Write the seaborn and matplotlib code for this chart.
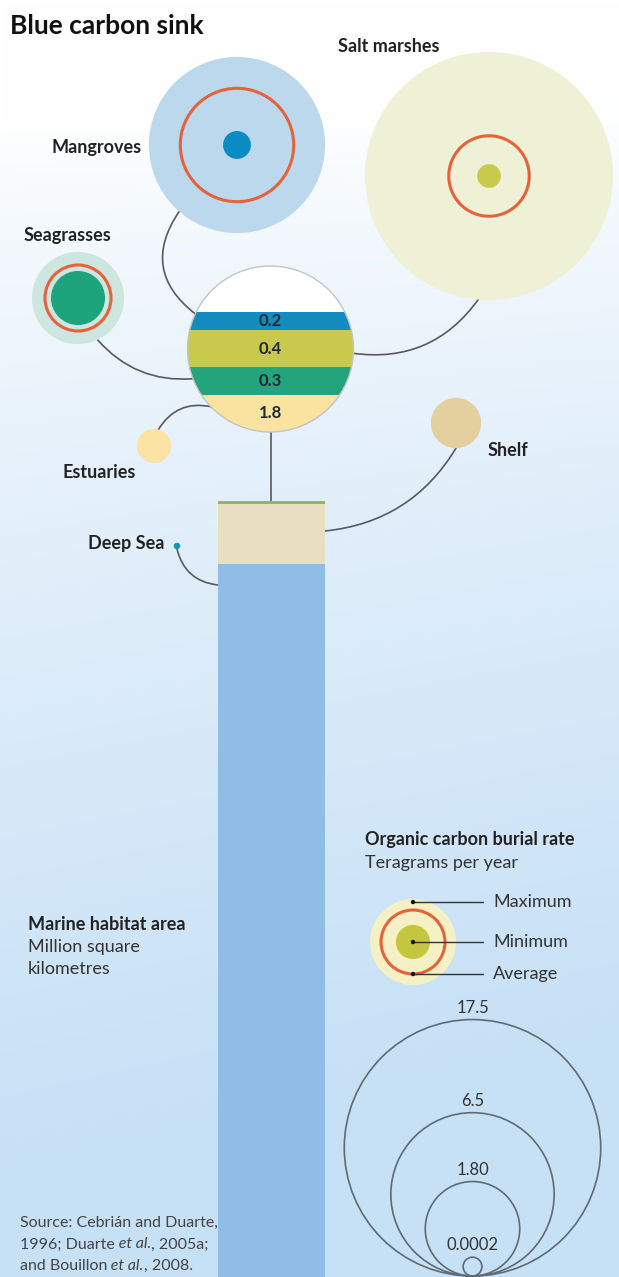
import numpy as np
import pandas as pd
import matplotlib.pyplot as plt
import seaborn as sns
from matplotlib.patches import Circle, Rectangle

sns.set_theme(style="white")
plt.rcParams['font.family'] = ['Lato', 'DejaVu Sans']

# ---- data ----
habitats = ["Mangroves", "Salt marshes", "Seagrasses", "Estuaries", "Shelf", "Deep Sea"]
area_mkm2 = [0.2, 0.4, 0.3, 1.8, 26.6, 330]          # marine habitat area, million km2
burial_min = [0.03, 0.01, 0.40, 0.08, 0.32, np.nan]  # Tg per year
burial_avg = [2.8, 1.2, 0.71, np.nan, np.nan, np.nan]
burial_max = [7.7, 16.3, 1.69, np.nan, np.nan, np.nan]
key_example = [0.08, 0.65, 1.42]                     # min, avg, max in the key
scale_vals = [17.5, 6.5, 1.80, 0.0002]
scale_labels = ["17.5", "6.5", "1.80", "0.0002"]

df = pd.DataFrame({"habitat": habitats, "area": area_mkm2,
                   "min": burial_min, "avg": burial_avg, "max": burial_max})

# ---- colours / layout ----
outer_col = {"Mangroves": "#bcd8ec", "Salt marshes": "#eff1d6", "Seagrasses": "#cde6df"}
inner_col = {"Mangroves": "#0b8cc3", "Salt marshes": "#c7ca4c", "Seagrasses": "#1ea47c",
             "Estuaries": "#fbe3a3", "Shelf": "#e4cf9f", "Deep Sea": "#1596b4"}
band_col = {"Mangroves": "#138bbf", "Salt marshes": "#c9c94e",
            "Seagrasses": "#23a47c", "Estuaries": "#fae2a0"}
ring = "#e5623a"
line_c = "#555a5e"
txt_c = "#222222"

W, H = 619, 1277
pos = {"Mangroves": (237, 145), "Salt marshes": (489, 176), "Seagrasses": (78, 298),
       "Estuaries": (154, 446), "Shelf": (456, 423), "Deep Sea": (177, 546)}
hub, hub_r = (270.5, 349), 83
band_top, band_h = 312, [18, 37, 28, 40]
bar_x0, bar_x1, bar_top, px_per_unit = 218, 325, 501, 2.37
key_c = (413, 942)
scale_cx, scale_bottom = 472.5, 1276


def rad(v):
    return 28.5 * np.sqrt(v) + 9


def pt(c, r, ang):
    return (c[0] + r * np.cos(np.radians(ang)), c[1] - r * np.sin(np.radians(ang)))


fig = plt.figure(figsize=(W / 100, H / 100), dpi=100)
ax = fig.add_axes([0, 0, 1, 1])
ax.set_xlim(0, W)
ax.set_ylim(H, 0)
ax.axis('off')

# background gradient
yy, xx = np.mgrid[0:H:4, 0:W:4]
t = np.clip((yy - 120) / 1050, 0, 1) ** 0.75 + 0.10 * (xx / W) * np.clip(yy / 500, 0, 1)
t = np.clip(t, 0, 1)[..., None]
top_rgb = np.array([1.0, 1.0, 1.0])
bot_rgb = np.array([0.78, 0.88, 0.965])
bg = top_rgb * (1 - t) + bot_rgb * t
ax.imshow(bg, extent=(0, W, H, 0), aspect='auto', interpolation='bilinear', zorder=0)

# habitat circles
for _, row in df.iterrows():
    h = row["habitat"]
    cx, cy = pos[h]
    if h == "Deep Sea":
        continue
    if not np.isnan(row["max"]):
        ax.add_patch(Circle((cx, cy), rad(row["max"]), fc=outer_col[h], ec='none', zorder=2))
        ax.add_patch(Circle((cx, cy), rad(row["avg"]), fc='none', ec=ring, lw=2.2, zorder=3))
    ax.add_patch(Circle((cx, cy), rad(row["min"]), fc=inner_col[h], ec='none', zorder=4))

sns.scatterplot(x=[pos["Deep Sea"][0]], y=[pos["Deep Sea"][1]], s=22,
                color=inner_col["Deep Sea"], edgecolor='none', ax=ax, zorder=5)

# central hub with the four coastal bands
hub_circ = Circle(hub, hub_r, fc='white', ec='none', zorder=5)
ax.add_patch(hub_circ)
y0 = band_top
for h, bh, a in zip(habitats[:4], band_h, area_mkm2[:4]):
    r = Rectangle((hub[0] - hub_r, y0), 2 * hub_r, bh, fc=band_col[h], ec='none', zorder=6)
    ax.add_patch(r)
    r.set_clip_path(hub_circ)
    ax.text(hub[0], y0 + bh / 2 + (0 if h != "Estuaries" else -2), f"{a:g}", ha='center', va='center',
            fontsize=12, fontweight='bold', color='#1d2a30', zorder=7)
    y0 += bh
ax.add_patch(Circle(hub, hub_r, fc='none', ec='#c4c4c4', lw=1, zorder=7))

# connectors
sm = pos["Salt marshes"]
conn = [
    (pt(pos["Mangroves"], rad(burial_max[0]), 229), pt(hub, hub_r, 155), 0.47),
    (pt(pos["Seagrasses"], rad(burial_max[2]), -65), pt(hub, hub_r, 201), 0.25),
    (pt(hub, hub_r, -3), pt(sm, rad(burial_max[1]), -95), 0.30),
    (pt(pos["Estuaries"], rad(burial_min[3]), 75), pt(hub, hub_r, 224), -0.35),
    (pt(pos["Shelf"], rad(burial_min[4]), -90), (bar_x1, 531), -0.25),
    ((pos["Deep Sea"][0], pos["Deep Sea"][1] + 3), (bar_x0, 585), 0.35),
]
for a, b, rr in conn:
    ax.annotate("", xy=b, xytext=a, zorder=1,
                arrowprops=dict(arrowstyle='-', color=line_c, lw=1.2, shrinkA=0, shrinkB=0,
                                connectionstyle=f"arc3,rad={rr}"))
ax.plot([hub[0], hub[0]], [hub[1] + hub_r, bar_top], color=line_c, lw=1.2, zorder=1)

# stacked bar: shelf + deep sea
axb = fig.add_axes([bar_x0 / W, 0, (bar_x1 - bar_x0) / W, (H - bar_top) / H])
sns.barplot(x=["area"], y=[area_mkm2[4] + area_mkm2[5]], color="#8fbde6", width=1,
            saturation=1, linewidth=0, ax=axb)
sns.barplot(x=["area"], y=[area_mkm2[4]], color="#e7dfc0", width=1,
            saturation=1, linewidth=0, ax=axb)
axb.axhline(0.3, color="#8cb45a", lw=2)
axb.set_xlim(-0.5, 0.5)
axb.set_ylim((H - bar_top) / px_per_unit, 0)
axb.axis('off')
axb.patch.set_alpha(0)

ax.text((bar_x0 + bar_x1) / 2, bar_top + area_mkm2[4] * px_per_unit / 2, f"{area_mkm2[4]:g}",
        ha='center', va='center', fontsize=13, fontweight='bold', color=txt_c, zorder=8)
ax.text((bar_x0 + bar_x1) / 2, 925, f"{area_mkm2[5]:g}", ha='center', va='center',
        fontsize=13, fontweight='bold', color=txt_c, zorder=8)

# labels
ax.text(10, 26, "Blue carbon sink", ha='left', va='center', fontsize=19, fontweight='bold', color='#111111')
lab = dict(fontsize=13, fontweight='bold', color=txt_c, va='center')
ax.text(338, 46, "Salt marshes", ha='left', **lab)
ax.text(142, 148, "Mangroves", ha='right', **lab)
ax.text(24, 235, "Seagrasses", ha='left', **lab)
ax.text(62, 473, "Estuaries", ha='left', **lab)
ax.text(488, 450, "Shelf", ha='left', **lab)
ax.text(88, 544, "Deep Sea", ha='left', **lab)

ax.text(28, 925, "Marine habitat area", ha='left', va='center', fontsize=13, fontweight='bold', color=txt_c)
ax.text(28, 947, "Million square", ha='left', va='center', fontsize=13, color='#333333')
ax.text(28, 969, "kilometres", ha='left', va='center', fontsize=13, color='#333333')

# key
ax.text(365, 839, "Organic carbon burial rate", ha='left', va='center', fontsize=13,
        fontweight='bold', color=txt_c)
ax.text(365, 863, "Teragrams per year", ha='left', va='center', fontsize=13, color='#333333')
kmin, kavg, kmax = key_example
ax.add_patch(Circle(key_c, rad(kmax), fc="#f5f1c4", ec='none', zorder=2))
ax.add_patch(Circle(key_c, rad(kavg), fc='none', ec=ring, lw=2.2, zorder=3))
ax.add_patch(Circle(key_c, rad(kmin), fc="#c4c63e", ec='none', zorder=4))
key_pts = [(key_c[1] - rad(kmax) + 3, "Maximum"), (key_c[1], "Minimum"), (key_c[1] + rad(kavg), "Average")]
for yk, name in key_pts:
    ax.plot([key_c[0], 483], [yk, yk], color='#333333', lw=1, zorder=5)
    ax.text(493, yk, name, ha='left', va='center', fontsize=13, color='#333333')
sns.scatterplot(x=[key_c[0]] * 3, y=[p[0] for p in key_pts], s=10, color='#111111',
                edgecolor='none', ax=ax, zorder=6)

# size scale
for v, l in zip(scale_vals, scale_labels):
    r = rad(v)
    ax.add_patch(Circle((scale_cx, scale_bottom - r), r, fc='none', ec='#5f6a74', lw=1.2, zorder=3))
    ax.text(scale_cx, scale_bottom - 2 * r - 12, l, ha='center', va='center', fontsize=12,
            color='#333333', zorder=4)

# source, with italic "et al."
renderer = fig.canvas.get_renderer()
src_lines = [[("Source: Cebrián and Duarte,", 'normal')],
             [("1996; Duarte", 'normal'), (" et al.", 'italic'), (", 2005a;", 'normal')],
             [("and Bouillon", 'normal'), (" et al.", 'italic'), (", 2008.", 'normal')]]
for i, parts in enumerate(src_lines):
    x = 20
    for s, st in parts:
        tt = ax.text(x, 1223 + 21.5 * i, s, ha='left', va='center', fontsize=11.5, style=st,
                     color='#444444')
        bb = tt.get_window_extent(renderer)
        x = ax.transData.inverted().transform((bb.x1, bb.y0))[0]

ax.legend_ = None
fig.savefig("out.png", dpi=100)
